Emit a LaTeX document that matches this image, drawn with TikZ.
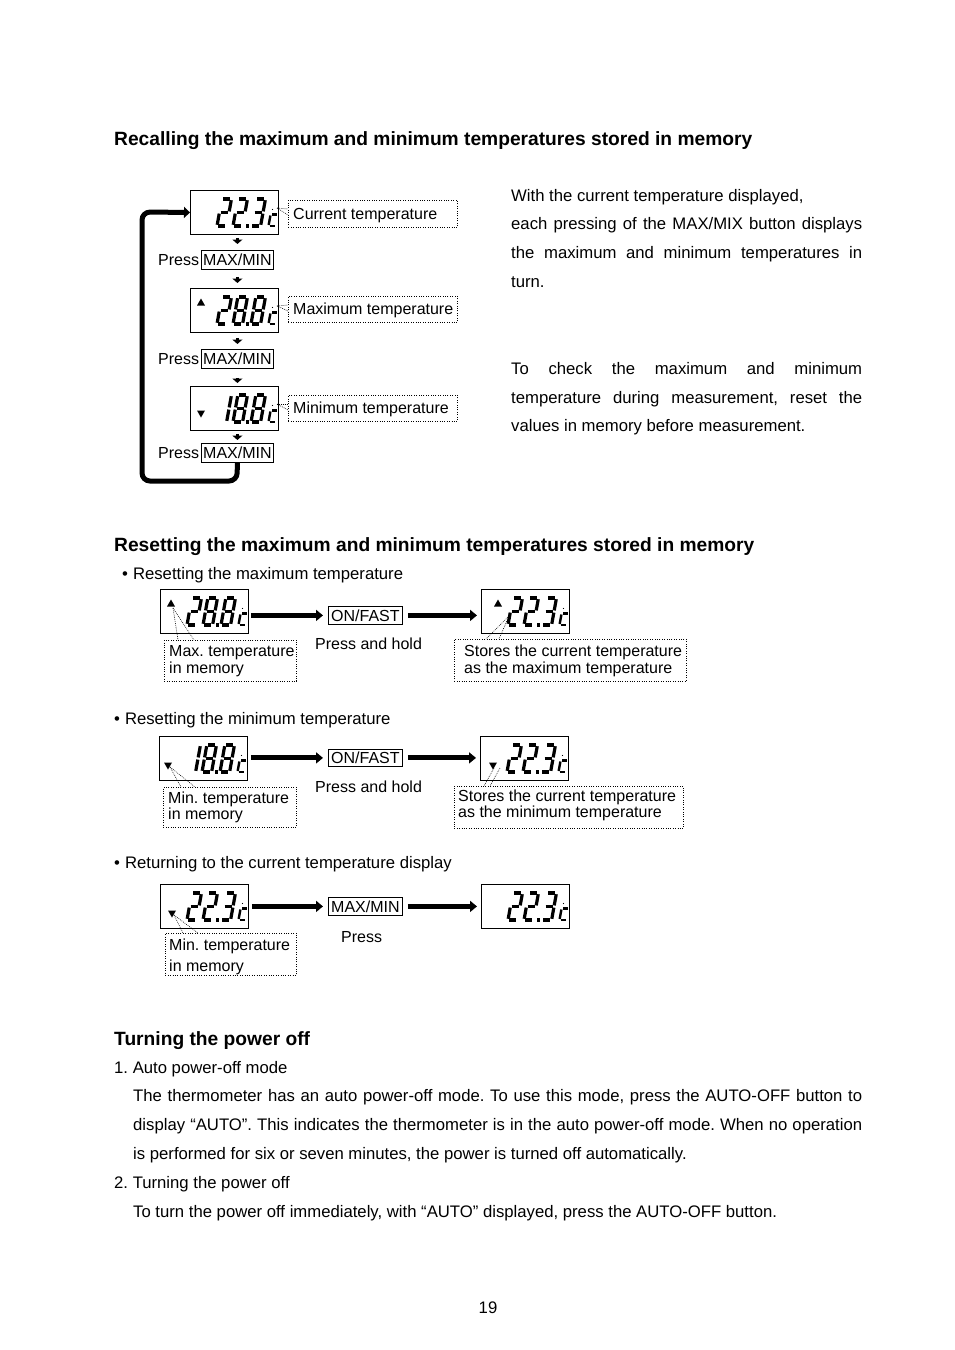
\documentclass[tikz,border=0pt]{standalone}
\usepackage{fontspec}
\setmainfont{Liberation Sans}
\usetikzlibrary{arrows.meta}
\frenchspacing
\newcommand\mydiag{\fontsize{16}{19}\selectfont}
\newcommand\mybody{\fontsize{16.7}{20}\selectfont}
\tikzset{
 seg/.style={line width=3.2pt, line cap=butt},
 lcd/.style={draw, line width=0.9pt, minimum width=88pt, minimum height=44pt, anchor=north west, inner sep=0pt},
 btn/.style={draw, line width=0.8pt, inner sep=0pt, minimum width=72pt, minimum height=19pt, font=\mydiag, anchor=north west},
 cbox/.style={draw, dash pattern=on 1pt off 1.4pt, line width=0.7pt, anchor=north west, inner sep=0pt},
 lead/.style={dash pattern=on 0.8pt off 1.1pt, line width=0.6pt},
 dt/.style={font=\mydiag, anchor=base west, inner sep=0pt},
 bt/.style={font=\mybody, anchor=base west, inner sep=0pt},
 hd/.style={font=\fontsize{19.2}{22}\selectfont\bfseries, anchor=base west, inner sep=0pt},
 bigarrow/.style={line width=5pt, -{Triangle[length=7pt,width=11pt]}},
 smallarr/.style={line width=3.6pt, -{Triangle[length=4.5pt,width=10pt]}},
 looparrow/.style={line width=5pt, rounded corners=8pt, -{Triangle[length=6pt,width=11pt]}},
}
% seven segment digit: x, y(bottom), a b c d e f g
\newcommand\sevseg[9]{%
 \begin{scope}[shift={(#1,#2)},y=1pt,xslant=0.18]
 \ifnum#3=1 \draw[seg] (1.2,27)--(8.4,27);\fi
 \ifnum#4=1 \draw[seg] (9.6,25.8)--(9.6,14.6);\fi
 \ifnum#5=1 \draw[seg] (9.6,12.4)--(9.6,1.2);\fi
 \ifnum#6=1 \draw[seg] (1.2,0)--(8.4,0);\fi
 \ifnum#7=1 \draw[seg] (0,1.2)--(0,12.4);\fi
 \ifnum#8=1 \draw[seg] (0,14.6)--(0,25.8);\fi
 \ifnum#9=1 \draw[seg] (1.2,13.5)--(8.4,13.5);\fi
 \end{scope}}
\newcommand\dtwo[2]{\sevseg{#1}{#2}1101101}
\newcommand\dthree[2]{\sevseg{#1}{#2}1111001}
\newcommand\deight[2]{\sevseg{#1}{#2}1111111}
\newcommand\done[2]{\sevseg{#1}{#2}0110000}
% reading inside an LCD whose top-left is (#1,#2)
\newcommand\reading[5]{%
 \begin{scope}[shift={(#1,#2)}]
 #3{27}{36}
 #4{43}{36}
 \fill (56,37.6) rectangle (59.2,34.4);
 #5{61}{36}
 \begin{scope}[shift={(78.5,36)},y=1pt,xslant=0.18]
  \draw[seg,line width=2.4pt] (6,11.5)--(1,11.5);
  \draw[seg,line width=2.4pt] (0,10.5)--(0,1);
  \draw[seg,line width=2.4pt] (1,0)--(6,0);
  \fill (1,16.5) circle (0.6);
 \end{scope}
 \end{scope}}
\newcommand\tup[2]{\fill (#1-4,#2+3.5) -- (#1+4,#2+3.5) -- (#1,#2-3.5) -- cycle;}
\newcommand\tdown[2]{\fill (#1-4,#2-3.5) -- (#1+4,#2-3.5) -- (#1,#2+3.5) -- cycle;}
\begin{document}
\begin{tikzpicture}[x=1pt,y=-1pt]
\useasboundingbox (0,0) rectangle (954,1350);
\fill[white] (0,0) rectangle (954,1350);

% ---------- Section 1 ----------
\node[hd] (h1) at (114,145) {Recalling the maximum and minimum temperatures stored in memory};

\node[lcd] (l1) at (190,190) {};
\reading{190}{190}\dtwo\dtwo\dthree
\node[lcd] (l2) at (190,288) {};
\reading{190}{288}\dtwo\deight\deight
\tup{201}{302}
\node[lcd] (l3) at (190,386) {};
\reading{190}{386}\done\deight\deight
\tdown{201}{414}

\node[btn] (m1) at (201,250) {MAX/MIN};
\node[btn] (m2) at (201,349) {MAX/MIN};
\node[btn] (m3) at (201,443) {MAX/MIN};
\node[dt] (p1) at (158,265) {Press};
\node[dt] (p2) at (158,364) {Press};
\node[dt] (p3) at (158,458) {Press};

\draw[smallarr, shorten <=3pt, shorten >=6pt] (m1.north |- l1.south) -- (m1.north);
\draw[smallarr, shorten <=7pt, shorten >=5pt] (m1.south) -- (m1.south |- l2.north);
\draw[smallarr, shorten <=5pt, shorten >=5pt] (m2.north |- l2.south) -- (m2.north);
\draw[smallarr, shorten <=9pt, shorten >=3pt] (m2.south) -- (m2.south |- l3.north);
\draw[smallarr, shorten <=3pt, shorten >=3pt] (m3.north |- l3.south) -- (m3.north);

\coordinate (lb) at (237,481);
\coordinate (lc) at (142,481);
\coordinate (ld) at (142,212);
\draw[looparrow] (m3.south) -- (lb) -- (lc) -- (ld) -- (l1.west);

\node[cbox, minimum width=169pt, minimum height=27pt] (c1) at (288,200) {};
\node[dt] (t1) at (293,219) {Current temperature};
\node[cbox, minimum width=169pt, minimum height=26pt] (c2) at (288,296) {};
\node[dt] (t2) at (293,314) {Maximum temperature};
\node[cbox, minimum width=169pt, minimum height=26pt] (c3) at (288,395) {};
\node[dt] (t3) at (293,413) {Minimum temperature};

\coordinate (s1) at (277,208);
\draw[lead] (s1) -- (c1.west |- 0,209); \draw[lead] (s1) -- (c1.west |- 0,215);
\coordinate (s2) at (277,306);
\draw[lead] (s2) -- (c2.west |- 0,305); \draw[lead] (s2) -- (c2.west |- 0,311);
\coordinate (s3) at (277,404);
\draw[lead] (s3) -- (c3.west |- 0,404); \draw[lead] (s3) -- (c3.west |- 0,410);

\node[bt] (r1) at (511,201) {With the current temperature displayed,};
\node[bt] (r2) at (511,229) {\makebox[351pt][s]{each pressing of the MAX/MIX button displays}};
\node[bt] (r3) at (511,258) {\makebox[351pt][s]{the maximum and minimum temperatures in}};
\node[bt] (r4) at (511,287) {turn.};
\node[bt] (r5) at (511,374) {\makebox[351pt][s]{To check the maximum and minimum}};
\node[bt] (r6) at (511,403) {\makebox[351pt][s]{temperature during measurement, reset the}};
\node[bt] (r7) at (511,431) {values in memory before measurement.};

% ---------- Section 2 ----------
\node[hd] (h2) at (114,551) {Resetting the maximum and minimum temperatures stored in memory};

\node[bt] (bl1) at (122,579) {\textbullet\hspace{5pt}Resetting the maximum temperature};
% row A
\node[lcd] (a1) at (160,589) {};
\reading{160}{589}\dtwo\deight\deight
\tup{171}{603}
\node[btn, minimum width=74pt, minimum height=18pt] (a2) at (328,606) {ON/FAST};
\node[lcd] (a3) at (481,589) {};
\reading{481}{589}\dtwo\dtwo\dthree
\tup{498}{603}
\draw[bigarrow, shorten <=2pt, shorten >=5pt] (a1.east |- a2.west) -- (a2.west);
\draw[bigarrow, shorten <=5pt, shorten >=4pt] (a2.east) -- (a2.east -| a3.west);
\node[dt] (ah) at (315,649) {Press and hold};
\node[cbox, minimum width=132pt, minimum height=41pt] (ca) at (164,640) {};
\node[dt] (ca1) at (169,656) {Max. temperature};
\node[dt] (ca2) at (169,673) {in memory};
\node[cbox, minimum width=232pt, minimum height=42pt] (cb) at (454,639) {};
\node[dt] (cb1) at (464,656) {Stores the current temperature};
\node[dt] (cb2) at (464,673) {as the maximum temperature};
\coordinate (sa) at (173,608);
\draw[lead] (sa) -- (ca.north west -| 178,0); \draw[lead] (sa) -- (ca.north west -| 194,0);
\coordinate (sb) at (509,616);
\draw[lead] (sb) -- (cb.north west -| 486,0); \draw[lead] (sb) -- (cb.north west -| 499,0);

\node[bt] (bl2) at (114,724) {\textbullet\hspace{5pt}Resetting the minimum temperature};
% row B
\node[lcd] (b1) at (159,736) {};
\reading{159}{736}\done\deight\deight
\tdown{168}{766}
\node[btn, minimum width=74pt, minimum height=17pt] (b2) at (328,749) {ON/FAST};
\node[lcd] (b3) at (480,736) {};
\reading{480}{736}\dtwo\dtwo\dthree
\tdown{493}{766}
\draw[bigarrow, shorten <=3pt, shorten >=5pt] (b1.east |- b2.west) -- (b2.west);
\draw[bigarrow, shorten <=5pt, shorten >=4pt] (b2.east) -- (b2.east -| b3.west);
\node[dt] (bh) at (315,792) {Press and hold};
\node[cbox, minimum width=133pt, minimum height=40pt] (cc) at (163,787) {};
\node[dt] (cc1) at (168,803) {Min. temperature};
\node[dt] (cc2) at (168,819) {in memory};
\node[cbox, minimum width=229pt, minimum height=42pt] (cd) at (454,786) {};
\node[dt] (cd1) at (458,801) {Stores the current temperature};
\node[dt] (cd2) at (458,817) {as the minimum temperature};
\coordinate (sc) at (170,767);
\draw[lead] (sc) -- (cc.north west -| 181,0); \draw[lead] (sc) -- (cc.north west -| 195,0);
\coordinate (sd1) at (494,768);
\coordinate (sd2) at (500,768);
\draw[lead] (sd1) -- (cd.north west -| 484,0); \draw[lead] (sd2) -- (cd.north west -| 490,0);

\node[bt] (bl3) at (114,868) {\textbullet\hspace{5pt}Returning to the current temperature display};
% row C
\node[lcd] (e1) at (160,884) {};
\reading{160}{884}\dtwo\dtwo\dthree
\tdown{172}{914}
\node[btn, minimum width=74pt, minimum height=18pt] (e2) at (328,897) {MAX/MIN};
\node[lcd] (e3) at (481,884) {};
\reading{481}{884}\dtwo\dtwo\dthree
\draw[bigarrow, shorten <=3pt, shorten >=5pt] (e1.east |- e2.west) -- (e2.west);
\draw[bigarrow, shorten <=5pt, shorten >=4pt] (e2.east) -- (e2.east -| e3.west);
\node[dt] (eh) at (341,942) {Press};
\node[cbox, minimum width=131pt, minimum height=42pt] (ce) at (165,933) {};
\node[dt] (ce1) at (169,950) {Min. temperature};
\node[dt] (ce2) at (169,971) {in memory};
\coordinate (se) at (174,915);
\draw[lead] (se) -- (ce.north west -| 183,0); \draw[lead] (se) -- (ce.north west -| 198,0);

% ---------- Section 3 ----------
\node[hd] (h3) at (114,1045) {Turning the power off};
\node[bt] (q1) at (114,1073) {1. Auto power-off mode};
\node[bt] (q2) at (133,1101) {\makebox[729pt][s]{The thermometer has an auto power-off mode. To use this mode, press the AUTO-OFF button to}};
\node[bt] (q3) at (133,1130) {\makebox[729pt][s]{display “AUTO”. This indicates the thermometer is in the auto power-off mode. When no operation}};
\node[bt] (q4) at (133,1159) {is performed for six or seven minutes, the power is turned off automatically.};
\node[bt] (q5) at (114,1188) {2. Turning the power off};
\node[bt] (q6) at (133,1217) {To turn the power off immediately, with “AUTO” displayed, press the AUTO-OFF button.};
\node[font=\mybody, anchor=base, inner sep=0pt] (pg) at (488,1313) {19};
\end{tikzpicture}
\end{document}
